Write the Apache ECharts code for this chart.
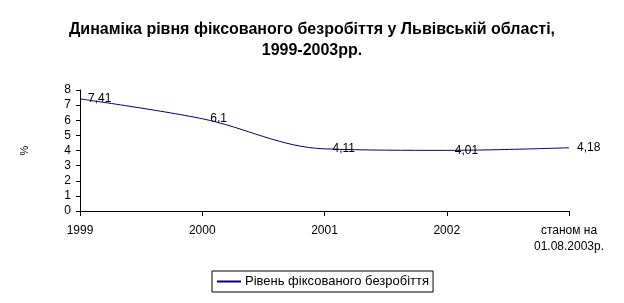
<!DOCTYPE html>
<html><head><meta charset="utf-8">
<script src="https://cdn.jsdelivr.net/npm/echarts@6/dist/echarts.min.js"></script>
<style>html,body{margin:0;padding:0;background:#fff}#c{width:624px;height:303px}</style>
</head><body><div id="c"></div>
<script>
const categories = ['1999', '2000', '2001', '2002', 'станом на\n01.08.2003р.'];
const values = [7.41, 6.1, 4.11, 4.01, 4.18];
const valueLabels = ['7,41', '6,1', '4,11', '4,01', '4,18'];
const seriesName = 'Рівень фіксованого безробіття';
const titleText = 'Динаміка рівня фіксованого безробіття у Львівській області,\n1999-2003рр.';

const chart = echarts.init(document.getElementById('c'), null, {renderer: 'canvas'});
const F = 'Arial, "Liberation Sans", sans-serif';
chart.setOption({
  animation: false,
  backgroundColor: '#fff',
  title: {
    text: titleText, left: 'center', top: 14,
    textStyle: {fontFamily: F, fontSize: 16, fontWeight: 'bold', color: '#000', lineHeight: 21}
  },
  legend: {
    data: [seriesName], left: 212, top: 271, itemWidth: 24, itemHeight: 2, itemGap: 0,
    icon: 'rect', borderColor: '#000', borderWidth: 1, padding: [4, 4, 4, 5],
    textStyle: {fontFamily: F, fontSize: 13, color: '#000', padding: [0, 0, 0, -1]}
  },
  grid: {left: 80, right: 55, top: 90, bottom: 92},
  xAxis: {
    type: 'category', data: categories, boundaryGap: false,
    axisLine: {lineStyle: {color: '#000', width: 1}},
    axisTick: {show: true, length: 5, lineStyle: {color: '#000'}},
    axisLabel: {fontFamily: F, fontSize: 12, color: '#000', margin: 12, lineHeight: 16, interval: 0}
  },
  yAxis: {
    type: 'value', min: 0, max: 8, interval: 1, name: '%', nameLocation: 'middle', nameGap: 50, nameRotate: 90,
    nameTextStyle: {fontFamily: F, fontSize: 11, color: '#000'},
    axisLine: {show: true, lineStyle: {color: '#000', width: 1}},
    axisTick: {show: true, length: 4, lineStyle: {color: '#000'}},
    splitLine: {show: false},
    axisLabel: {fontFamily: F, fontSize: 12, color: '#000', margin: 9}
  },
  series: [{
    name: seriesName, type: 'line', data: values, smooth: 0.35,
    symbol: 'circle', symbolSize: 0, showSymbol: true,
    lineStyle: {color: '#000080', width: 1}, itemStyle: {color: '#000080'},
    label: {
      show: true, position: 'right', distance: 8, fontFamily: F, fontSize: 12, color: '#000',
      formatter: p => valueLabels[p.dataIndex]
    }
  }]
});
</script></body></html>
